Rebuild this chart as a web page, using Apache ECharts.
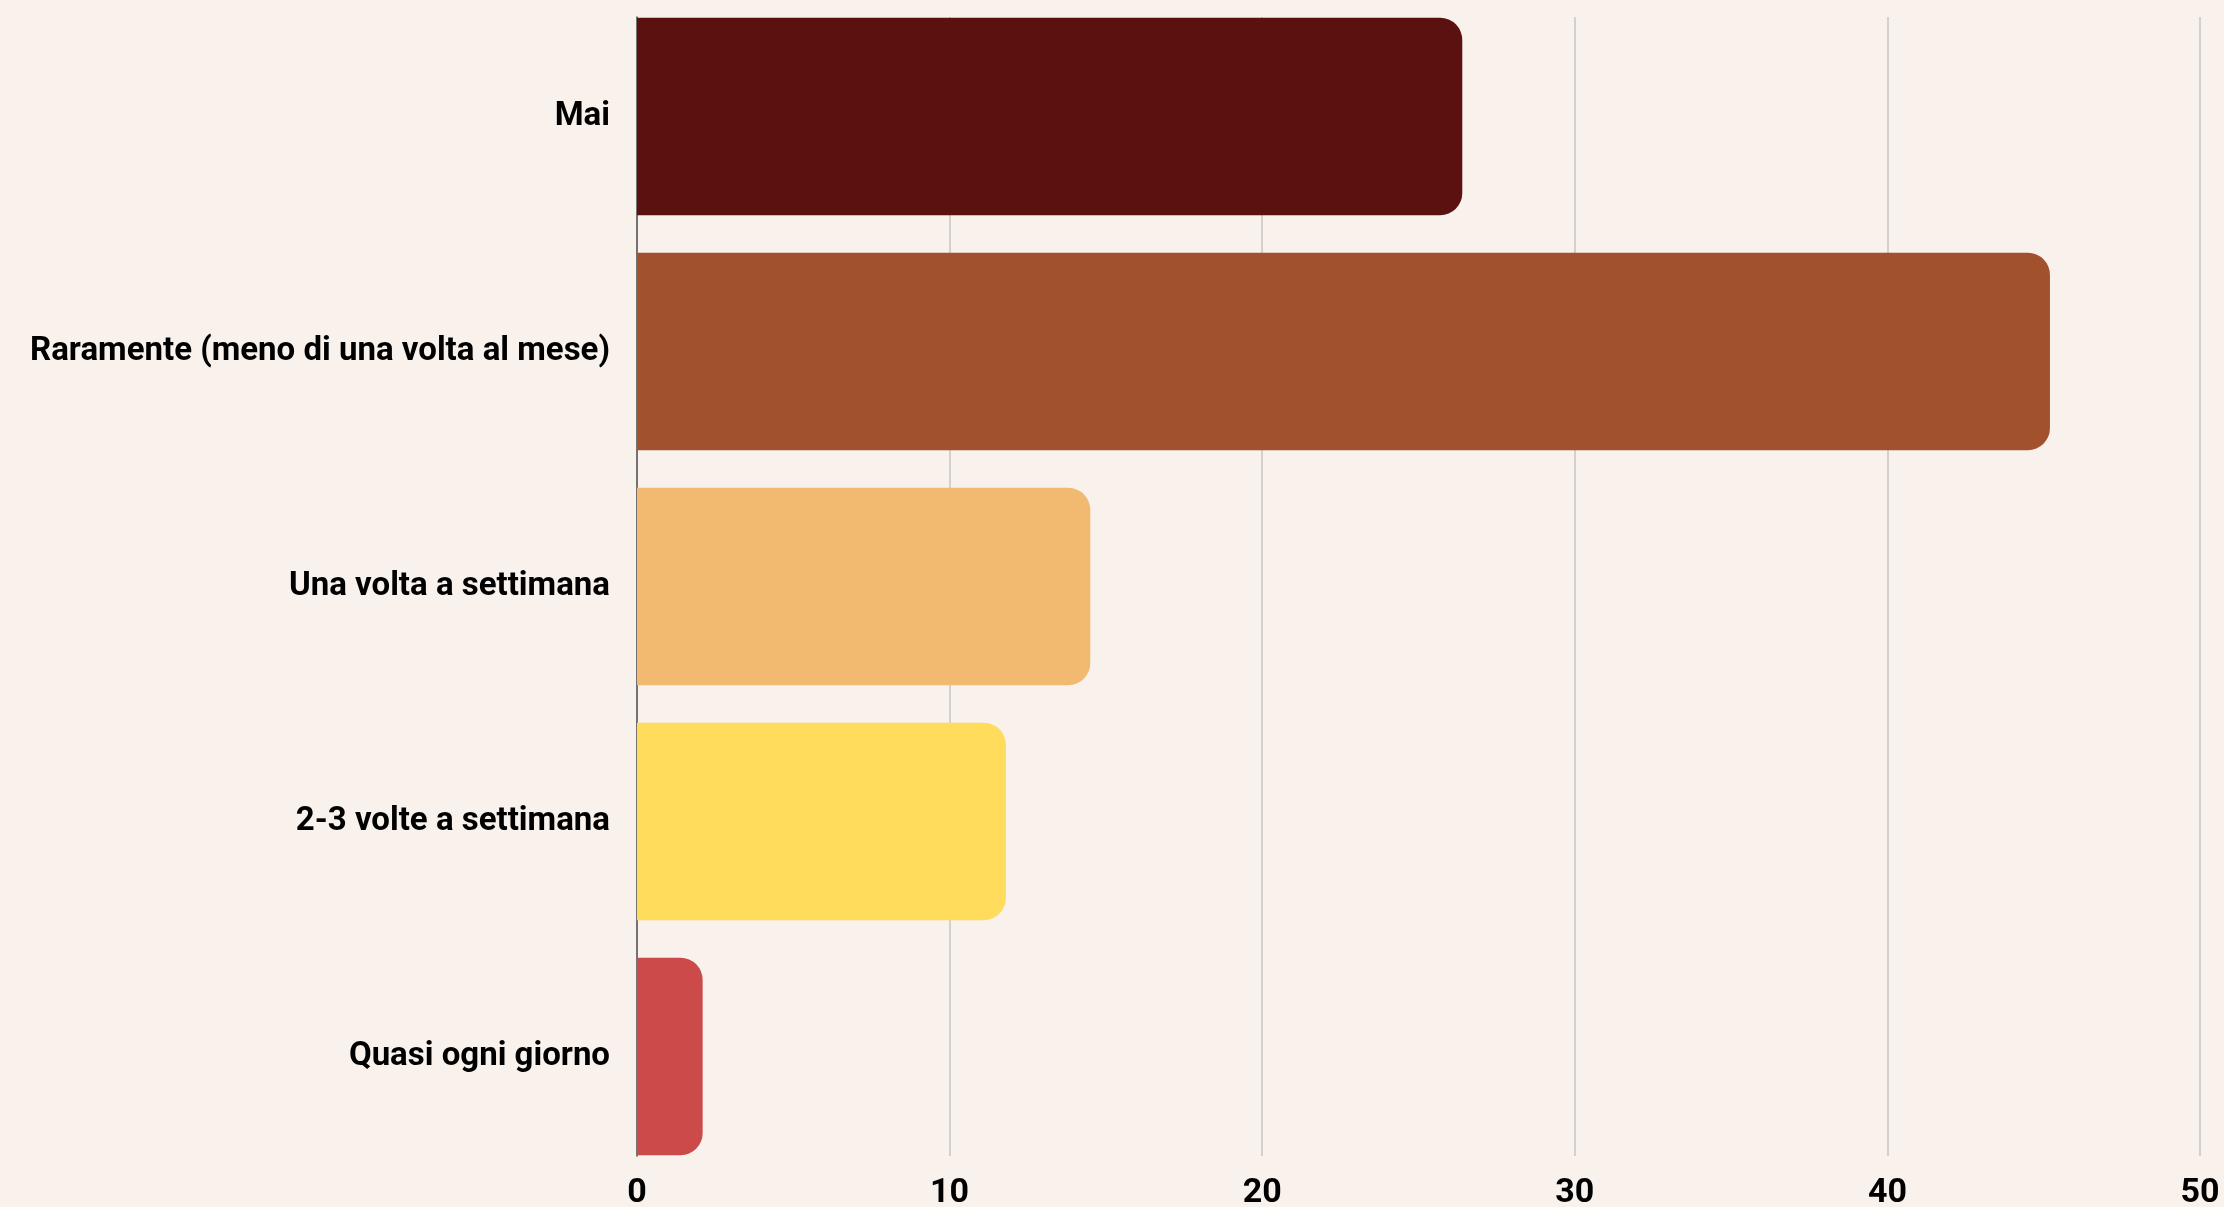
<!DOCTYPE html>
<html>
<head>
<meta charset="utf-8">
<script src="https://cdn.jsdelivr.net/npm/echarts@6/dist/echarts.min.js"></script>
<style>
  html, body { margin: 0; padding: 0; background: #F8F1EC; }
  #chart { width: 2224px; height: 1207px; }
</style>
</head>
<body>
<div id="chart"></div>
<script>
// Frequency answers (percent of respondents)
const categories = [
  'Mai',
  'Raramente (meno di una volta al mese)',
  'Una volta a settimana',
  '2-3 volte a settimana',
  'Quasi ogni giorno'
];
const values = [26.4, 45.2, 14.5, 11.8, 2.1];
const barColors = ['#5C1111', '#A2512D', '#F2B970', '#FFDC5B', '#CC4A4A'];
const xTicks = [0, 10, 20, 30, 40, 50];

const FONT = 'Roboto, "Liberation Sans", sans-serif';

const chart = echarts.init(document.getElementById('chart'), null, { renderer: 'canvas' });

chart.setOption({
  backgroundColor: '#F8F1EC',
  animation: false,
  grid: [
    // frame for the value gridlines and tick labels
    { left: 637, right: 24, top: 17, bottom: 51, outerBoundsMode: 'none', containLabel: false },
    // frame for the bars: bands stretched so the outer bars touch the frame edges
    { left: 637, right: 24, top: -1, bottom: 33, outerBoundsMode: 'none', containLabel: false }
  ],
  xAxis: [
    {
      gridIndex: 0,
      type: 'value',
      min: xTicks[0],
      max: xTicks[xTicks.length - 1],
      interval: 10,
      axisLine: { show: false },
      axisTick: { show: false },
      splitLine: { show: true, lineStyle: { color: '#C9C5C1', width: 1.5 } },
      axisLabel: {
        margin: 20,
        color: '#000',
        fontFamily: FONT,
        fontWeight: 'bold',
        fontSize: 34
      }
    },
    {
      gridIndex: 1,
      type: 'value',
      min: xTicks[0],
      max: xTicks[xTicks.length - 1],
      show: false
    }
  ],
  yAxis: [
    {
      gridIndex: 0,
      type: 'category',
      inverse: true,
      data: categories,
      axisLine: { show: true, lineStyle: { color: '#555', width: 1.5 } },
      axisTick: { show: false },
      axisLabel: { show: false }
    },
    {
      gridIndex: 1,
      type: 'category',
      inverse: true,
      data: categories,
      axisLine: { show: false },
      axisTick: { show: false },
      axisLabel: {
        margin: 27,
        color: '#000',
        fontFamily: FONT,
        fontWeight: 'bold',
        fontSize: 33
      }
    }
  ],
  series: [
    {
      type: 'bar',
      xAxisIndex: 1,
      yAxisIndex: 1,
      barCategoryGap: '16%',
      data: values.map((v, i) => ({
        value: v,
        itemStyle: { color: barColors[i], borderRadius: [0, 22, 22, 0] }
      }))
    }
  ]
});
</script>
</body>
</html>
